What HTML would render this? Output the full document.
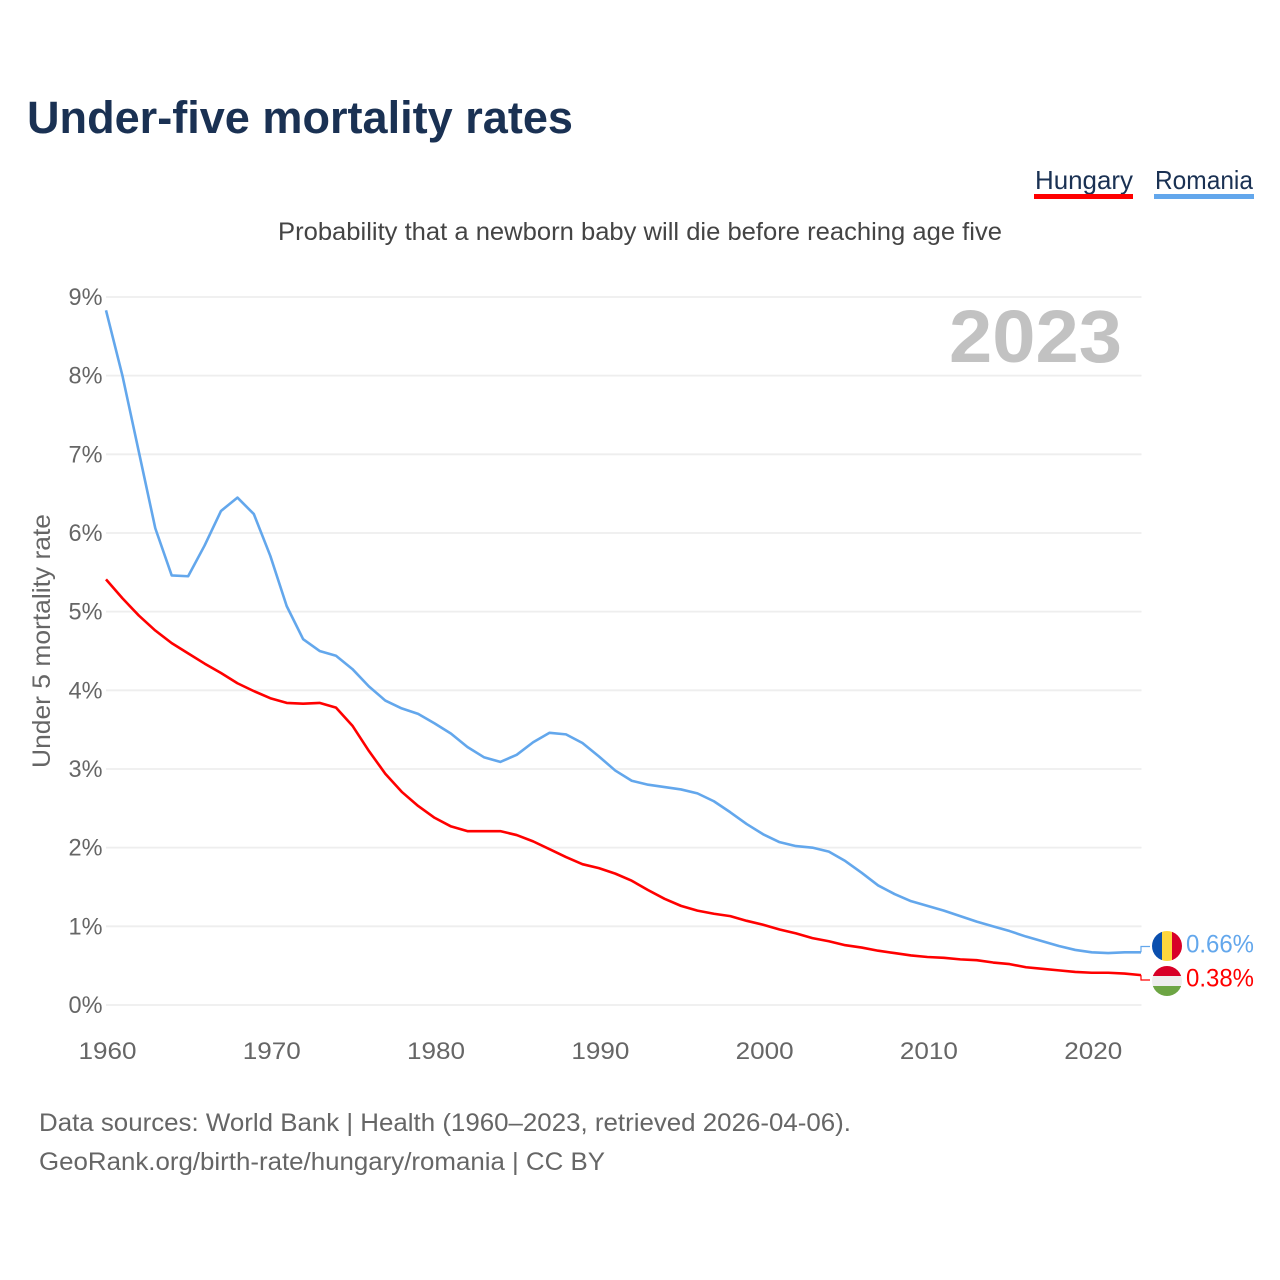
<!DOCTYPE html>
<html lang="en">
<head>
<meta charset="utf-8">
<title>Under-five mortality rates</title>
<style>
html,body{margin:0;padding:0;background:#fff;}
svg{display:block;font-family:"Liberation Sans",sans-serif;}
</style>
</head>
<body>
<svg id="chart" xmlns="http://www.w3.org/2000/svg" width="1280" height="1280" viewBox="0 0 1280 1280">
  <defs>
    <clipPath id="clip-ro"><circle cx="1167" cy="946" r="15"/></clipPath>
    <clipPath id="clip-hu"><circle cx="1167" cy="981" r="15"/></clipPath>
  </defs>
  <rect x="0" y="0" width="1280" height="1280" fill="#fff"/>
  <text x="27" y="133" font-size="45" font-weight="bold" fill="#1a3153" textLength="546" lengthAdjust="spacingAndGlyphs">Under-five mortality rates</text>

  <g>
    <g>
      <text x="1035" y="189" font-size="26" fill="#1a3153" textLength="98" lengthAdjust="spacingAndGlyphs">Hungary</text>
      <rect x="1034" y="194" width="99" height="5" fill="#ff0000"/>
    </g>
    <g>
      <text x="1155" y="189" font-size="26" fill="#1a3153" textLength="98" lengthAdjust="spacingAndGlyphs">Romania</text>
      <rect x="1154" y="194" width="100" height="5" fill="#63a7ec"/>
    </g>
  </g>

  <text x="278" y="240" font-size="25" fill="#444" textLength="724" lengthAdjust="spacingAndGlyphs">Probability that a newborn baby will die before reaching age five</text>

  <g id="grid"></g>
  <g id="y-ticks"></g>
  <g id="x-ticks"></g>

  <text transform="translate(50,768) rotate(-90)" font-size="25" fill="#666" textLength="254" lengthAdjust="spacingAndGlyphs">Under 5 mortality rate</text>

  <text id="year-label" x="1122" y="362" text-anchor="end" font-size="74" font-weight="bold" fill="#c2c2c2" textLength="173" lengthAdjust="spacingAndGlyphs">2023</text>

  <g id="series"></g>

  <g clip-path="url(#clip-ro)">
    <rect x="1152" y="931" width="10" height="30" fill="#0a4fae"/>
    <rect x="1162" y="931" width="10" height="30" fill="#fdd63c"/>
    <rect x="1172" y="931" width="10" height="30" fill="#d80027"/>
  </g>
  <g clip-path="url(#clip-hu)">
    <rect x="1152" y="966" width="30" height="10" fill="#d80027"/>
    <rect x="1152" y="976" width="30" height="10" fill="#eeeeee"/>
    <rect x="1152" y="986" width="30" height="10" fill="#6da544"/>
  </g>
  <text id="value-romania" x="1186" y="952.5" font-size="25" fill="#63a7ec" textLength="68" lengthAdjust="spacingAndGlyphs">0.66%</text>
  <text id="value-hungary" x="1186" y="986.5" font-size="25" fill="#ff0000" textLength="68" lengthAdjust="spacingAndGlyphs">0.38%</text>

  <text x="39" y="1131" font-size="25" fill="#666" textLength="812" lengthAdjust="spacingAndGlyphs">Data sources: World Bank | Health (1960–2023, retrieved 2026-04-06).</text>
  <text x="39" y="1170" font-size="25" fill="#666" textLength="566" lengthAdjust="spacingAndGlyphs">GeoRank.org/birth-rate/hungary/romania | CC BY</text>
</svg>
<script>
const startYear = 1960;
const endYear = 2023;
const yTickValues = [0, 1, 2, 3, 4, 5, 6, 7, 8, 9];
const xTickYears = [1960, 1970, 1980, 1990, 2000, 2010, 2020];
const hungaryValues = [5.41,5.17,4.95,4.76,4.60,4.47,4.34,4.22,4.09,3.99,3.90,3.84,3.83,3.84,3.78,3.55,3.23,2.94,2.71,2.53,2.38,2.27,2.21,2.21,2.21,2.16,2.08,1.98,1.88,1.79,1.74,1.67,1.58,1.46,1.35,1.26,1.20,1.16,1.13,1.07,1.02,0.96,0.91,0.85,0.81,0.76,0.73,0.69,0.66,0.63,0.61,0.60,0.58,0.57,0.54,0.52,0.48,0.46,0.44,0.42,0.41,0.41,0.40,0.38];
const romaniaValues = [8.83,8.00,7.03,6.06,5.46,5.45,5.84,6.28,6.45,6.24,5.71,5.07,4.65,4.50,4.44,4.27,4.05,3.87,3.77,3.70,3.58,3.45,3.28,3.15,3.09,3.18,3.34,3.46,3.44,3.33,3.16,2.98,2.85,2.80,2.77,2.74,2.69,2.59,2.45,2.30,2.17,2.07,2.02,2.00,1.95,1.83,1.68,1.52,1.41,1.32,1.26,1.20,1.13,1.06,1.00,0.94,0.87,0.81,0.75,0.70,0.67,0.66,0.67,0.67];

const NS = 'http://www.w3.org/2000/svg';
const plotLeft = 106;
const plotRight = 1141;
const plotBottom = 1005;
const pxPerPct = 78.67;
function xScale(year) {
  return plotLeft + (year - startYear) * (plotRight - plotLeft) / (endYear - startYear);
}
function yScale(v) {
  return plotBottom - v * pxPerPct;
}
function make(tag, attrs) {
  const el = document.createElementNS(NS, tag);
  for (const k in attrs) el.setAttribute(k, attrs[k]);
  return el;
}

const gridGroup = document.getElementById('grid');
const yTickGroup = document.getElementById('y-ticks');
yTickValues.forEach(function (v) {
  const line = make('line', { x1: 106, x2: plotRight + 0.5, y1: yScale(v), y2: yScale(v), stroke: '#eeeeee', 'stroke-width': 1.8 });
  
  
  gridGroup.appendChild(line);
  const label = make('text', { x: 102.5, y: yScale(v) + 8, 'text-anchor': 'end', 'font-size': 24, fill: '#666', textLength: 34, lengthAdjust: 'spacingAndGlyphs' });
  
  
  label.textContent = v + '%';
  yTickGroup.appendChild(label);
});

const xTickGroup = document.getElementById('x-ticks');
xTickYears.forEach(function (yr) {
  const label = make('text', { x: xScale(yr) + 1.5, y: 1059, 'text-anchor': 'middle', 'font-size': 24, fill: '#666', textLength: 58, lengthAdjust: 'spacingAndGlyphs' });
  
  
  label.textContent = yr;
  xTickGroup.appendChild(label);
});

function linePoints(values) {
  return values.map(function (v, i) {
    return xScale(startYear + i).toFixed(2) + ',' + yScale(v).toFixed(2);
  }).join(' ');
}
function connector(values, labelY) {
  const yEnd = yScale(values[values.length - 1]);
  return plotRight + ',' + yEnd.toFixed(2) + ' ' + plotRight + ',' + labelY + ' 1150,' + labelY;
}
const seriesGroup = document.getElementById('series');

const romaniaLine = make('polyline', { points: linePoints(romaniaValues), fill: 'none', stroke: '#63a7ec', 'stroke-width': 2.6, 'stroke-linejoin': 'round' });


seriesGroup.appendChild(romaniaLine);

const hungaryLine = make('polyline', { points: linePoints(hungaryValues), fill: 'none', stroke: '#ff0000', 'stroke-width': 2.6, 'stroke-linejoin': 'round' });


seriesGroup.appendChild(hungaryLine);

const romaniaConnector = make('polyline', { points: connector(romaniaValues, 946.5), fill: 'none', stroke: '#63a7ec', 'stroke-width': 1.2 });


seriesGroup.appendChild(romaniaConnector);

const hungaryConnector = make('polyline', { points: connector(hungaryValues, 980), fill: 'none', stroke: '#ff0000', 'stroke-width': 1.2 });


seriesGroup.appendChild(hungaryConnector);
</script>
</body>
</html>
